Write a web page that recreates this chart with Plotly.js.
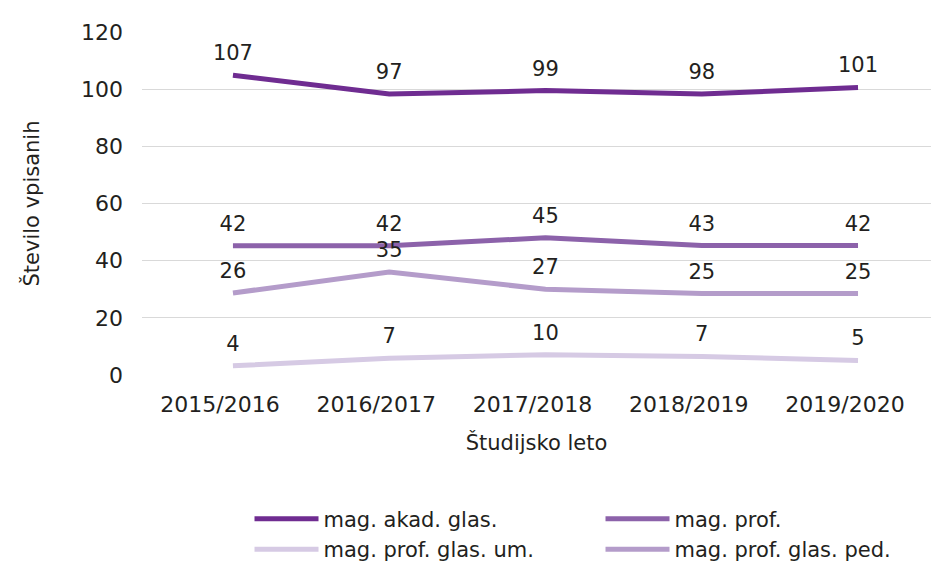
<!DOCTYPE html>
<html>
<head>
<meta charset="utf-8">
<script src="https://cdn.plot.ly/plotly-3.0.1.min.js"></script>
<style>html,body{margin:0;padding:0;background:#fff;}#chart{width:931px;height:568px;}</style>
</head>
<body>
<div id="chart"></div>
<script>
// Categories (study years)
const years = ["2015/2016", "2016/2017", "2017/2018", "2018/2019", "2019/2020"];

// Series names
const seriesNames = ["mag. akad. glas.", "mag. prof.", "mag. prof. glas. um.", "mag. prof. glas. ped."];

// Plotted line values (as drawn in the reference)
const akadLine = [104.9, 98.3, 99.5, 98.3, 100.6];
const profLine = [45.2, 45.2, 48.0, 45.3, 45.3];
const umLine   = [3.2, 5.9, 7.1, 6.5, 5.1];
const pedLine  = [28.7, 36.0, 30.0, 28.5, 28.5];

// Data labels shown above the lines
const akadLabels = [107, 97, 99, 98, 101];
const profLabels = [42, 42, 45, 43, 42];
const umLabels   = [4, 7, 10, 7, 5];
const pedLabels  = [26, 35, 27, 25, 25];

// Y axis ticks
const yTicks = [0, 20, 40, 60, 80, 100, 120];

const colors = ["#6f2c91", "#8c62aa", "#d6cae4", "#b49cca"];
const FONT = "DejaVu Sans, sans-serif";
const TXT = "#231f20";

const lines = [akadLine, profLine, umLine, pedLine];
const labels = [akadLabels, profLabels, umLabels, pedLabels];

const traces = lines.map((vals, i) => ({
  type: "scatter",
  mode: "lines+markers+text",
  name: seriesNames[i],
  x: [0, 1, 2, 3, 4],
  y: vals,
  text: labels[i].map(String),
  textposition: "top center",
  textfont: {family: FONT, size: 21, color: TXT},
  line: {color: colors[i], width: 5, shape: "linear"},
  marker: {size: 14, color: "rgba(0,0,0,0)", line: {width: 0}},
  cliponaxis: false,
  hoverinfo: "skip"
}));

const layout = {
  width: 931,
  height: 568,
  margin: {l: 142, r: 0, t: 32, b: 193},
  paper_bgcolor: "#ffffff",
  plot_bgcolor: "#ffffff",
  font: {family: FONT, size: 21, color: TXT},
  showlegend: true,
  legend: {
    orientation: "h",
    xref: "container",
    yref: "container",
    x: 0.268,
    xanchor: "left",
    y: 0.122,
    yanchor: "top",
    entrywidth: 272,
    entrywidthmode: "pixels",
    itemwidth: 64,
    font: {family: FONT, size: 21, color: TXT},
    traceorder: "normal"
  },
  xaxis: {
    type: "linear",
    range: [-0.582, 4.467],
    tickmode: "array",
    tickvals: [0, 1, 2, 3, 4],
    ticktext: years,
    showgrid: false,
    zeroline: false,
    showline: false,
    ticks: "",
    ticklabelstandoff: 14,
    ticklabelshift: -13,
    tickfont: {family: FONT, size: 22, color: TXT},
    title: {text: "Študijsko leto", font: {family: FONT, size: 21, color: TXT}, standoff: 19}
  },
  yaxis: {
    range: [0, 120],
    tickmode: "array",
    tickvals: yTicks,
    showgrid: true,
    gridcolor: "#d9d9d9",
    gridwidth: 1,
    zeroline: false,
    showline: false,
    ticks: "",
    ticklabelstandoff: 18,
    tickfont: {family: FONT, size: 22, color: TXT},
    title: {text: "Število vpisanih", font: {family: FONT, size: 21, color: TXT}, standoff: 35}
  }
};

Plotly.newPlot("chart", traces, layout, {displayModeBar: false, staticPlot: true});
</script>
</body>
</html>
